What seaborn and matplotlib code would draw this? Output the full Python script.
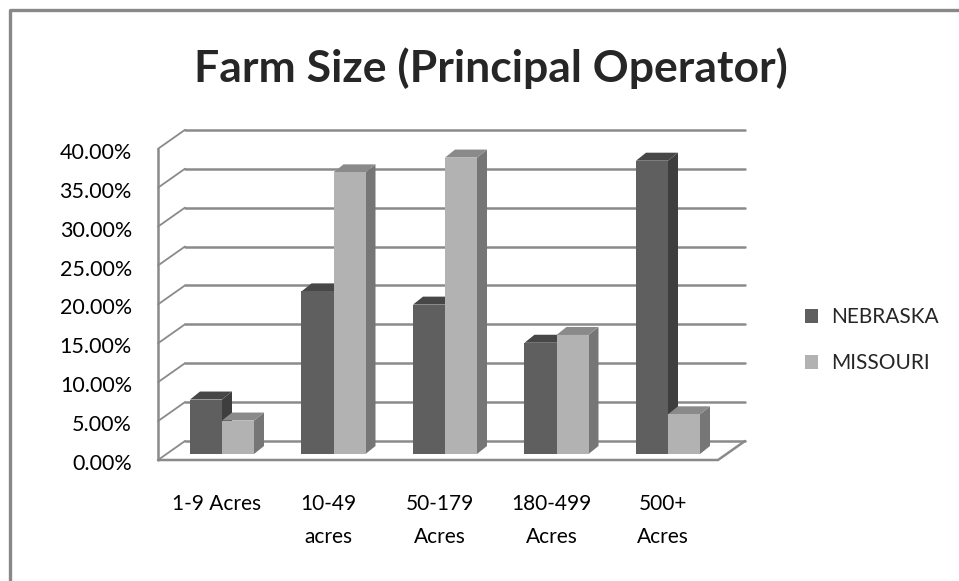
import numpy as np
import pandas as pd
import matplotlib
matplotlib.use("Agg")
import matplotlib.pyplot as plt
from matplotlib.patches import Polygon
from matplotlib.lines import Line2D
import seaborn as sns

categories = ["1-9 Acres", "10-49\nacres", "50-179\nAcres", "180-499\nAcres", "500+\nAcres"]
states = ["NEBRASKA", "MISSOURI"]
nebraska = [7.0, 20.9, 19.2, 14.3, 37.7]
missouri = [4.3, 36.2, 38.1, 15.3, 5.1]
y_ticks = [0, 5, 10, 15, 20, 25, 30, 35, 40]

df = pd.DataFrame({
    "size": categories * 2,
    "state": [states[0]] * 5 + [states[1]] * 5,
    "pct": np.array(nebraska + missouri) / 100,
})

sns.set_style("white")
plt.rcParams["font.family"] = ["Lato", "DejaVu Sans"]

W, H = 959, 581
fig = plt.figure(figsize=(W / 100, H / 100), dpi=100)

# pixel -> data helpers (front plane of the fake 3D box)
X0, XS = 222, 111.5
Y0, YS = 454, 778


def dx(p):
    return (p - X0) / XS


def dy(p):
    return (Y0 - p) / YS


ax = fig.add_axes([150 / W, (H - 466) / H, (752 - 150) / W, (466 - 125) / H])

front = ["#5f5f5f", "#b2b2b2"]
side = ["#3e3e3e", "#767676"]
top = ["#474747", "#8a8a8a"]

sns.barplot(data=df, x="size", y="pct", hue="state", palette=front,
            width=0.574, linewidth=0, saturation=1, ax=ax, zorder=3)

# fake depth on every bar
bdx, bdy = 10 / XS, 8 / YS
for k, cont in enumerate(ax.containers):
    z = 3 + k
    for b in cont:
        x, w, h = b.get_x(), b.get_width(), b.get_height()
        b.set_zorder(z)
        ax.add_patch(Polygon([(x + w, 0), (x + w + bdx, bdy), (x + w + bdx, h + bdy), (x + w, h)],
                             closed=True, fc=side[k], ec="none", zorder=z - 0.5))
        ax.add_patch(Polygon([(x, h), (x + w, h), (x + w + bdx, h + bdy), (x + bdx, h + bdy)],
                             closed=True, fc=top[k], ec="none", zorder=z - 0.5))

# back wall, side wall and floor
gc = "#8a8a8a"
for t in y_ticks:
    v = t / 100
    ax.plot([dx(185), dx(745)], [v + dy(441), v + dy(441)], color=gc, lw=1.8, zorder=1)
    ax.plot([dx(158), dx(185)], [v + dy(460), v + dy(441)], color=gc, lw=1.3, zorder=1)
ax.plot([dx(158), dx(158)], [dy(460), 0.40 + dy(460)], color=gc, lw=1.8, zorder=1)
ax.plot([dx(158), dx(718), dx(745)], [dy(460), dy(460), dy(441)], color=gc, lw=1.8, zorder=1)

ax.set_xlim(dx(150), dx(752))
ax.set_ylim(dy(466), dy(125))
for s in ax.spines.values():
    s.set_visible(False)
ax.set_xlabel("")
ax.set_ylabel("")

ax.set_yticks([t / 100 + dy(462) for t in y_ticks],
              [f"{t:.2f}%" for t in y_ticks])
ax.set_xticks(np.arange(len(categories)) - 5 / XS, categories)
ax.tick_params(axis="y", length=0, pad=13, labelsize=15.5, labelcolor="black")
ax.tick_params(axis="x", length=0, pad=20, labelsize=15, labelcolor="black")
for lab in ax.get_xticklabels():
    lab.set_linespacing(1.8)

handles, labels = ax.get_legend_handles_labels()
ax.legend(handles, labels, loc="center left", frameon=False,
          bbox_to_anchor=(786 / W, (H - 340) / H), bbox_transform=fig.transFigure,
          handlelength=0.65, handleheight=0.65, handletextpad=0.6,
          labelspacing=1.25, fontsize=15)

fig.text(491 / W, (H - 68) / H, "Farm Size (Principal Operator)",
         ha="center", va="center", fontsize=32, fontweight="bold")

# chart border (only left and top visible)
fig.add_artist(Line2D([9.5 / W, 9.5 / W, 1], [0, (H - 9.5) / H, (H - 9.5) / H],
                      transform=fig.transFigure, color="#888888", lw=2.4))

fig.savefig("out.png", dpi=100)
